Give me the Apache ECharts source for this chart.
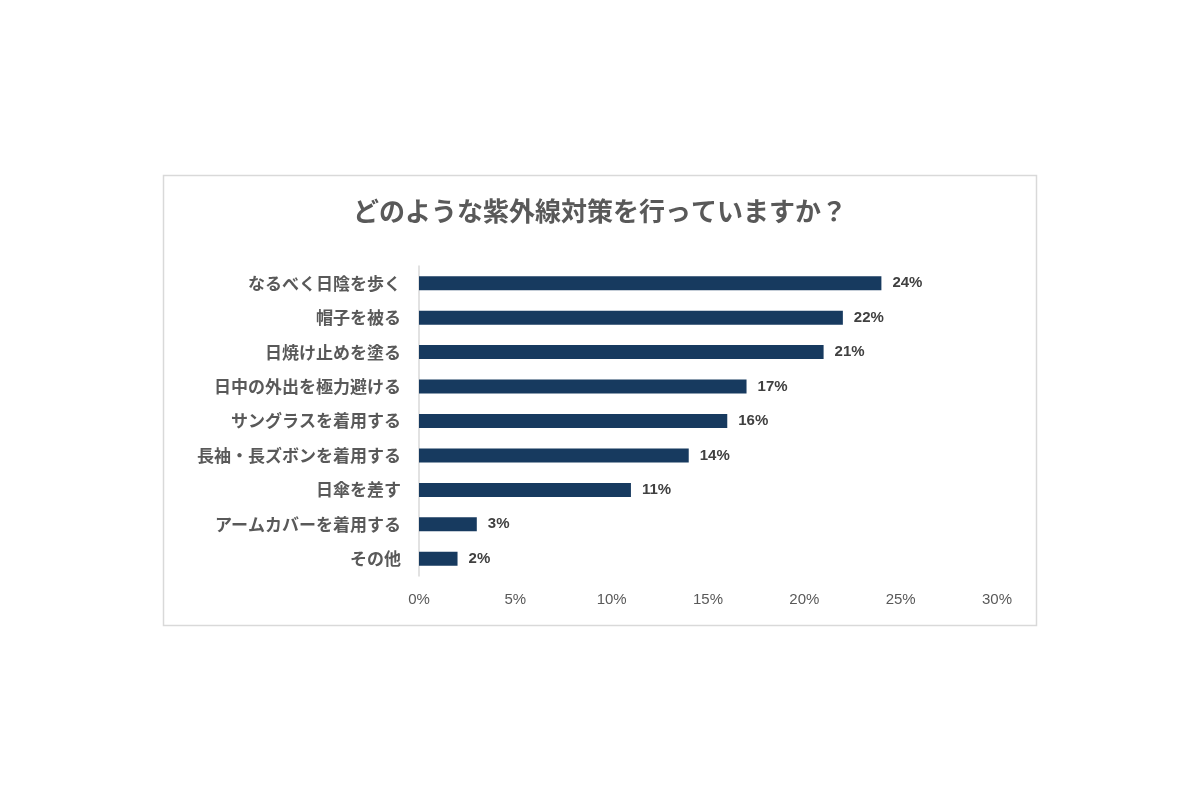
<!DOCTYPE html>
<html><head><meta charset="utf-8">
<script src="https://cdn.jsdelivr.net/npm/echarts@6/dist/echarts.min.js"></script>
<style>html,body{margin:0;padding:0;background:#fff}#c{width:1200px;height:800px}</style>
</head><body><div id="c"></div>
<script>
const categories = ["なるべく日陰を歩く","帽子を被る","日焼け止めを塗る","日中の外出を極力避ける","サングラスを着用する","長袖・長ズボンを着用する","日傘を差す","アームカバーを着用する","その他"];
const values = [24,22,21,17,16,14,11,3,2];
const titleText = "どのような紫外線対策を行っていますか？";
const font = "'Noto Sans CJK JP', 'Liberation Sans', sans-serif";
const chart = echarts.init(document.getElementById('c'));
chart.setOption({
  backgroundColor:'#fff',
  animation:false,
  graphic:[{type:'rect',shape:{x:163.5,y:175.5,width:873,height:450},style:{fill:'none',stroke:'#d9d9d9',lineWidth:1.5}}],
  title:{text:titleText,left:'center',top:193,textStyle:{fontFamily:font,fontSize:26,fontWeight:'bold',color:'#595959'}},
  grid:{left:419,right:203,top:266,bottom:224,containLabel:false},
  xAxis:{type:'value',min:0,max:30,interval:5,
    axisLabel:{formatter:'{value}%',color:'#595959',fontSize:15,fontFamily:"'Liberation Sans', sans-serif",margin:16},
    splitLine:{show:false},axisLine:{show:false},axisTick:{show:false}},
  yAxis:{type:'category',data:categories,inverse:true,
    axisLine:{show:true,lineStyle:{color:'#d9d9d9',width:1.5}},axisTick:{show:false},
    axisLabel:{color:'#595959',fontSize:17,fontWeight:'bold',fontFamily:font,margin:18}},
  series:[{type:'bar',data:values,barWidth:14,itemStyle:{color:'#173a5f'},
    label:{show:true,position:'right',formatter:'{c}%',color:'#404040',fontSize:15,fontWeight:'bold',fontFamily:"'Liberation Sans', sans-serif",distance:11}}]
});
</script></body></html>
